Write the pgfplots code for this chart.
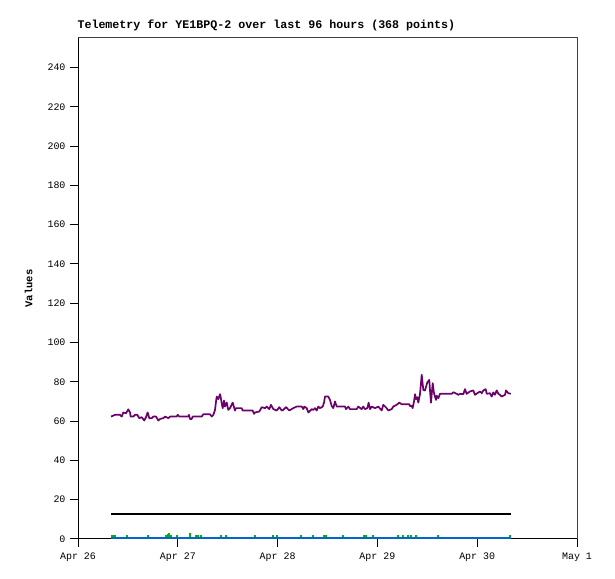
\documentclass[border=0pt]{standalone}
\usepackage{fontspec}
\setmainfont{Liberation Mono}
\usepackage{pgfplots}
\pgfplotsset{compat=1.18}

\definecolor{tpurple}{RGB}{108,0,108}
\definecolor{tgreen}{RGB}{0,180,0}
\definecolor{tblue}{RGB}{0,102,204}
\definecolor{frame}{RGB}{64,64,64}

\pgfplotstableread{
d v
0.331 62.3
0.371 63.2
0.421 63.2
0.438 62.3
0.454 64.4
0.481 64.0
0.504 66.0
0.521 64.4
0.528 62.3
0.554 62.3
0.571 63.2
0.594 63.2
0.614 61.5
0.638 62.0
0.664 60.3
0.681 62.0
0.698 64.4
0.714 61.5
0.738 61.5
0.754 62.3
0.782 62.3
0.805 60.3
0.822 61.1
0.855 61.5
0.872 62.3
0.905 61.5
0.922 62.3
0.989 62.3
0.999 63.2
1.015 62.3
1.105 62.3
1.112 63.2
1.122 61.1
1.139 61.1
1.149 62.3
1.239 62.3
1.256 63.5
1.323 63.5
1.340 62.3
1.356 63.2
1.373 65.7
1.383 70.0
1.390 72.5
1.406 71.2
1.423 73.7
1.429 72.5
1.440 69.0
1.450 66.6
1.463 70.5
1.473 67.4
1.490 69.5
1.506 65.7
1.523 66.6
1.550 69.4
1.573 65.4
1.583 66.6
1.640 66.6
1.650 65.4
1.750 65.4
1.764 63.7
1.774 64.4
1.817 64.9
1.841 67.1
1.874 66.6
1.891 67.4
1.917 66.1
1.934 68.3
1.957 66.1
1.991 65.4
2.017 67.1
2.041 65.4
2.057 65.7
2.084 67.1
2.117 65.4
2.157 66.6
2.191 67.4
2.242 67.4
2.258 66.1
2.268 67.4
2.292 66.6
2.308 64.4
2.342 66.1
2.358 65.7
2.375 66.6
2.392 65.4
2.408 67.4
2.425 66.6
2.452 67.4
2.465 69.4
2.475 72.5
2.508 72.5
2.525 70.8
2.542 67.7
2.558 66.6
2.575 70.0
2.592 67.4
2.675 67.4
2.685 66.1
2.709 67.4
2.725 66.1
2.792 66.1
2.808 67.4
2.842 66.1
2.858 67.4
2.876 66.1
2.899 66.6
2.912 69.4
2.926 66.1
2.943 67.4
2.976 66.6
3.009 67.4
3.043 65.4
3.059 68.3
3.093 66.6
3.109 65.4
3.143 66.1
3.159 67.4
3.193 68.3
3.219 69.4
3.243 68.6
3.320 68.6
3.327 67.6
3.343 67.8
3.353 66.6
3.367 70.0
3.377 73.7
3.387 71.2
3.400 72.2
3.410 69.4
3.427 73.9
3.444 83.6
3.460 75.9
3.477 75.6
3.500 79.7
3.520 81.0
3.527 75.6
3.537 69.4
3.554 79.3
3.567 74.2
3.587 70.8
3.594 72.9
3.611 71.7
3.627 73.9
3.744 73.9
3.760 74.7
3.794 73.9
3.811 73.4
3.828 73.9
3.861 73.7
3.878 76.3
3.894 73.9
3.928 75.1
3.961 75.6
3.978 73.4
4.001 74.2
4.028 75.1
4.045 74.2
4.061 75.6
4.085 76.3
4.095 73.9
4.128 74.2
4.145 72.5
4.161 74.6
4.178 73.4
4.195 75.6
4.212 73.9
4.228 73.4
4.245 72.5
4.279 73.4
4.289 75.6
4.312 74.2
4.336 73.9
}\purpletab

\pgfplotstableread{
d v
0.341 2.2
0.351 2.2
0.361 2.2
0.371 2.2
0.491 1.9
0.701 1.9
0.882 1.9
0.902 2.6
0.912 3.3
0.932 2.2
0.992 1.9
1.122 3.3
1.182 2.2
1.202 2.2
1.232 2.2
1.433 2.2
1.483 2.2
1.774 1.9
1.954 2.2
1.994 2.2
2.234 2.2
2.355 1.9
2.465 1.9
2.485 2.2
2.655 1.9
2.866 2.2
2.886 2.2
2.956 1.9
3.206 2.2
3.257 2.2
3.307 2.2
3.337 2.2
3.387 2.2
3.607 2.2
4.329 2.2
}\greentab

\begin{document}
\begin{tikzpicture}
\useasboundingbox (0,0) rectangle (615bp,579bp);
\begin{axis}[
  at={(78bp,40bp)}, anchor=south west,
  scale only axis, width=499bp, height=501bp,
  xmin=0, xmax=5, ymin=0, ymax=255,
  xtick={0,1,2,3,4,5},
  xticklabels={Apr 26,Apr 27,Apr 28,Apr 29,Apr 30,May 1},
  ytick={0,20,...,240},
  axis lines=left, axis line style={-, line width=1bp, black},
  tick style={black, line width=1bp},
  tick align=outside, major tick length=8bp,
  /pgf/number format/assume math mode=true,
  tick label style={font=\fontsize{10}{12}\selectfont},
  yticklabel style={xshift=-1bp},
  xticklabel style={yshift=-2bp},
  ylabel={Values},
  ylabel style={at={([xshift=-42bp]axis description cs:0,0.5)}, anchor=south,
    font=\bfseries\fontsize{10.5}{12}\selectfont},
  title={Telemetry for YE1BPQ-2 over last 96 hours (368 points)},
  title style={at={(axis description cs:0,1)}, anchor=base west, yshift=4bp, xshift=-4bp,
    font=\bfseries\fontsize{11.7}{13}\selectfont},
  clip=false,
]
\addplot[black, line width=2bp] coordinates {(0.331,12.5) (4.339,12.5)};
\addplot[tpurple, line width=1.7bp, line join=round] table[x=d, y=v] {\purpletab};
\addplot[tgreen, ycomb, line width=2bp] table[x=d, y=v] {\greentab};
% series sits on zero; offset by half its width so it rests above the axis line
\addplot[tblue, line width=2.2bp, yshift=1.1bp] coordinates {(0.331,0) (4.339,0)};
\draw[frame, line width=1bp] (rel axis cs:0,1) -- (rel axis cs:1,1) -- (rel axis cs:1,0);
\end{axis}
\end{tikzpicture}
\end{document}
